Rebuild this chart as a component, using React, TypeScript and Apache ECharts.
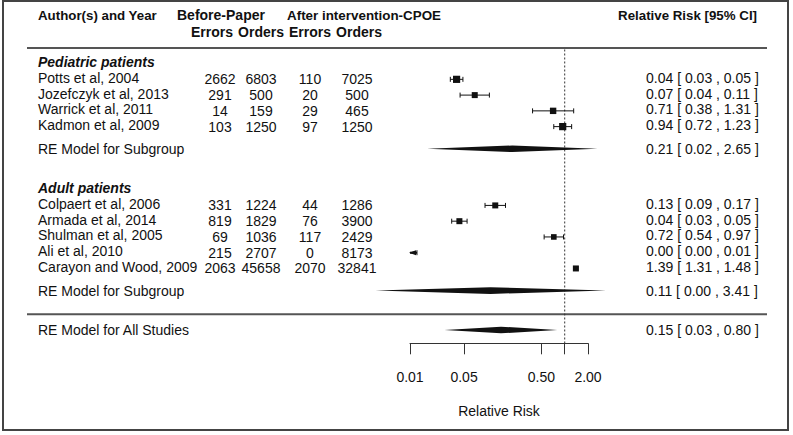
import React, { useEffect, useRef } from "react";
import * as echarts from "echarts";

// ---------- data ----------
const headerLine1 = ["Author(s) and Year", "Before-Paper", "After intervention-CPOE", "Relative Risk [95% CI]"];
const headerLine2 = ["Errors", "Orders", "Errors", "Orders"];

const groupNames = ["Pediatric patients", "Adult patients"];
const groupRows = [18, 10];

const studyNames = [
  "Potts et al, 2004",
  "Jozefczyk et al, 2013",
  "Warrick et al, 2011",
  "Kadmon et al, 2009",
  "Colpaert et al, 2006",
  "Armada et al, 2014",
  "Shulman et al, 2005",
  "Ali et al, 2010",
  "Carayon and Wood, 2009",
];
const studyRows = [17, 16, 15, 14, 9, 8, 7, 6, 5];
const beforeErrors = [2662, 291, 14, 103, 331, 819, 69, 215, 2063];
const beforeOrders = [6803, 500, 159, 1250, 1224, 1829, 1036, 2707, 45658];
const afterErrors = [110, 20, 29, 97, 44, 76, 117, 0, 2070];
const afterOrders = [7025, 500, 465, 1250, 1286, 3900, 2429, 8173, 32841];
const studyRR = [0.0400, 0.0687, 0.708, 0.942, 0.1265, 0.0435, 0.723, 0.00077, 1.394];
const studyLower = [0.0332, 0.0444, 0.384, 0.722, 0.0933, 0.0346, 0.542, 0.000048, 1.3147];
const studyUpper = [0.0483, 0.1062, 1.306, 1.229, 0.1716, 0.0547, 0.9652, 0.0123, 1.480];
const studyWeight = [0.9, 0.75, 0.8, 0.9, 0.75, 0.75, 0.7, 0.6, 0.75];

const summaryLabels = ["RE Model for Subgroup", "RE Model for Subgroup", "RE Model for All Studies"];
const summaryRows = [12.5, 3.5, 1];
const summaryRR = [0.21, 0.11, 0.15];
const summaryLower = [0.0167, 0.0036, 0.028];
const summaryUpper = [2.65, 3.41, 0.8];

const tickValues = [0.01, 0.05, 0.5, 2];
const tickLabels = ["0.01", "0.05", "0.50", "2.00"];
const refValue = 1;
const axisTitle = "Relative Risk";

// ---------- layout ----------
const FONT = "'Liberation Sans', Arial, Helvetica, sans-serif";
const TXT = "#111";
const nameX = 38;
const numX = [220, 261, 310, 357];
const hdrX = [212, 261, 310, 359];
const rightX = 646;
const axisMin = tickValues[0];
const axisMax = tickValues[tickValues.length - 1];
const lg = (v: number) => Math.log10(v);
const fmt = (v: number) => v.toFixed(2);
const ciText = (e: number, l: number, u: number) => `${fmt(e)} [ ${fmt(l)} , ${fmt(u)} ]`;

export default function App() {
  const ref = useRef<HTMLDivElement>(null);

  useEffect(() => {
    if (!ref.current) return;
    const chart = echarts.init(ref.current, null, { renderer: "svg" });

    const txt = (text: string, x: number, y: number, extra: any = {}) => ({
      type: "text",
      x,
      y,
      style: {
        text,
        fill: TXT,
        fontSize: 14,
        fontFamily: FONT,
        align: "left",
        verticalAlign: "middle",
        ...extra,
      },
    });

    const studySeries = {
      type: "custom",
      clip: false,
      silent: true,
      data: studyNames.map((_, i) => [lg(studyRR[i]), studyRows[i], i]),
      renderItem: (params: any, api: any) => {
        const i = api.value(2);
        const row = api.value(1);
        const y = api.coord([0, row])[1];
        const ym = y + 1.5;
        const children: any[] = [];
        children.push(txt(studyNames[i], nameX, y));
        const nums = [beforeErrors[i], beforeOrders[i], afterErrors[i], afterOrders[i]];
        nums.forEach((n, k) => children.push(txt(String(n), numX[k], ym, { align: "center" })));
        children.push(txt(ciText(studyRR[i], studyLower[i], studyUpper[i]), rightX, y));

        const lo = Math.max(studyLower[i], axisMin);
        const hi = Math.min(studyUpper[i], axisMax);
        const xl = api.coord([lg(lo), row])[0];
        const xh = api.coord([lg(hi), row])[0];
        const stroke = { stroke: "#111", lineWidth: 1 };
        children.push({ type: "line", shape: { x1: xl, y1: ym, x2: xh, y2: ym }, style: stroke });
        const cap = 2.5;
        if (studyLower[i] >= axisMin) {
          children.push({ type: "line", shape: { x1: xl, y1: ym - cap, x2: xl, y2: ym + cap }, style: stroke });
        } else {
          children.push({
            type: "polygon",
            shape: { points: [[xl - 1, ym], [xl + 6, ym - 2.5], [xl + 6, ym + 2.5]] },
            style: { fill: "#111" },
          });
          children.push({ type: "line", shape: { x1: xl, y1: ym, x2: xh, y2: ym }, style: { stroke: "#111", lineWidth: 2 } });
        }
        if (studyUpper[i] <= axisMax) {
          children.push({ type: "line", shape: { x1: xh, y1: ym - cap, x2: xh, y2: ym + cap }, style: stroke });
        }
        if (studyRR[i] >= axisMin && studyRR[i] <= axisMax) {
          const c = api.coord([api.value(0), row]);
          const s = studyWeight[i] * 8;
          children.push({
            type: "rect",
            shape: { x: c[0] - s / 2, y: ym - s / 2, width: s, height: s },
            style: { fill: "#111" },
          });
        }
        return { type: "group", children };
      },
    };

    const summarySeries = {
      type: "custom",
      clip: false,
      silent: true,
      data: summaryLabels.map((_, i) => [lg(summaryRR[i]), summaryRows[i], i]),
      renderItem: (params: any, api: any) => {
        const i = api.value(2);
        const row = api.value(1);
        const y = api.coord([0, row])[1];
        const xl = api.coord([lg(summaryLower[i]), row])[0];
        const xe = api.coord([api.value(0), row])[0];
        const xh = api.coord([lg(summaryUpper[i]), row])[0];
        const h = 3.3;
        return {
          type: "group",
          children: [
            txt(summaryLabels[i], nameX, y),
            txt(ciText(summaryRR[i], summaryLower[i], summaryUpper[i]), rightX, y),
            {
              type: "polygon",
              shape: { points: [[xl, y], [xe, y - h], [xh, y], [xe, y + h]] },
              style: { fill: "#111" },
            },
          ],
        };
      },
    };

    const groupSeries = {
      type: "custom",
      clip: false,
      silent: true,
      data: groupNames.map((_, i) => [0, groupRows[i], i]),
      renderItem: (params: any, api: any) => {
        const i = api.value(2);
        const y = api.coord([0, api.value(1)])[1];
        return txt(groupNames[i], nameX, y, { fontWeight: "bold", fontStyle: "italic" });
      },
    };

    const decorSeries = {
      type: "custom",
      clip: false,
      silent: true,
      data: [[lg(refValue), 0]],
      renderItem: (params: any, api: any) => {
        const top = api.coord([api.value(0), 18.8]);
        const bottom = api.coord([api.value(0), 0.156]);
        const sepTop = api.coord([0, 18.9])[1];
        const sepBottom = api.coord([0, 2])[1];
        const sep = { stroke: "#555", lineWidth: 2 };
        return {
          type: "group",
          children: [
            { type: "line", shape: { x1: 27, y1: sepTop, x2: 767, y2: sepTop }, style: sep },
            { type: "line", shape: { x1: 27, y1: sepBottom, x2: 767, y2: sepBottom }, style: sep },
            {
              type: "line",
              shape: { x1: top[0], y1: top[1], x2: bottom[0], y2: bottom[1] },
              style: { stroke: "#333", lineWidth: 1, lineDash: [2, 2] },
            },
          ],
        };
      },
    };

    const hdrStyle = { fill: TXT, fontSize: 14, fontWeight: "bold", fontFamily: FONT, verticalAlign: "middle" };

    chart.setOption({
      animation: false,
      backgroundColor: "#fff",
      grid: { left: 410, right: 205, top: 14.8, bottom: 91.7, outerBoundsMode: "none" },
      xAxis: {
        type: "value",
        min: lg(axisMin),
        max: lg(axisMax),
        splitLine: { show: false },
        axisLine: { show: true, onZero: false, lineStyle: { color: "#333", width: 1 } },
        axisTick: {
          show: true,
          length: 11,
          customValues: [...tickValues.map(lg), lg(refValue)],
          lineStyle: { color: "#333", width: 1 },
        },
        axisLabel: {
          show: true,
          customValues: tickValues.map(lg),
          margin: 27,
          fontSize: 14,
          fontFamily: FONT,
          color: TXT,
          formatter: (v: number) => {
            let best = 0;
            tickValues.forEach((t, k) => {
              if (Math.abs(lg(t) - v) < Math.abs(lg(tickValues[best]) - v)) best = k;
            });
            return tickLabels[best];
          },
        },
      },
      yAxis: { type: "value", min: 0.156, max: 21, show: false },
      graphic: [
        {
          type: "rect",
          shape: { x: 3, y: 1, width: 785, height: 429 },
          style: { fill: "none", stroke: "#444", lineWidth: 2 },
          silent: true,
        },
        { type: "text", x: 38, y: 15, style: { ...hdrStyle, fontSize: 13.3, text: headerLine1[0], align: "left" } },
        { type: "text", x: 177, y: 15, style: { ...hdrStyle, text: headerLine1[1], align: "left" } },
        { type: "text", x: 287, y: 15, style: { ...hdrStyle, fontSize: 13.4, text: headerLine1[2], align: "left" } },
        { type: "text", x: 757, y: 15, style: { ...hdrStyle, fontSize: 13.3, text: headerLine1[3], align: "right" } },
        ...headerLine2.map((t, k) => ({
          type: "text",
          x: hdrX[k],
          y: 32,
          style: { ...hdrStyle, text: t, align: "center" },
        })),
        {
          type: "text",
          x: 499,
          y: 411,
          style: { text: axisTitle, fill: TXT, fontSize: 14, fontFamily: FONT, align: "center", verticalAlign: "middle" },
        },
      ],
      series: [decorSeries, studySeries, summarySeries, groupSeries],
    });

    return () => chart.dispose();
  }, []);

  return (
    <div
      ref={ref}
      style={{ position: "absolute", left: 0, top: 0, width: 793, height: 435, background: "#fff" }}
    />
  );
}
